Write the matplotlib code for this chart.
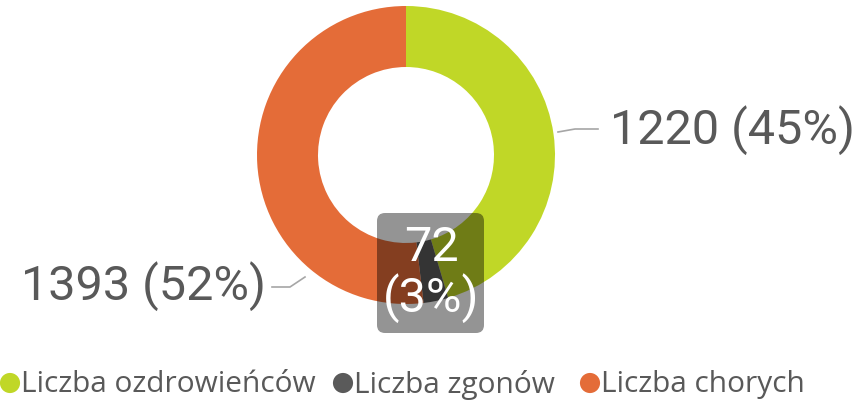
import matplotlib.pyplot as plt
from matplotlib.patches import FancyBboxPatch

# dane
etykiety = ['Liczba ozdrowieńców', 'Liczba zgonów', 'Liczba chorych']
wartosci = [1220, 72, 1393]
kolory = ['#C0D727', '#5A5A5A', '#E46C38']

W, H = 864, 406
fig = plt.figure(figsize=(W / 100, H / 100), dpi=100)
ax = fig.add_axes([0, 0, 1, 1])

suma = sum(wartosci)
proc = [round(100 * v / suma) for v in wartosci]

wedges, _ = ax.pie(wartosci, colors=kolory, startangle=90, counterclock=False,
                   center=(406, 250), radius=149,
                   wedgeprops=dict(width=61, edgecolor='none'))

ax.set_xlim(0, W)
ax.set_ylim(0, H)
ax.set_aspect('equal')
ax.axis('off')

tekst = '#595959'
linia = '#A6A6A6'

# etykieta prawa
ax.plot([558, 575, 598], [273, 276, 276], color=linia, lw=1.2)
ax.text(610, 276, f'{wartosci[0]} ({proc[0]}%)', fontsize=35, color=tekst,
        family='Roboto', ha='left', va='center')

# etykieta lewa
ax.plot([305, 290, 272], [128, 118, 118], color=linia, lw=1.2)
ax.text(266, 120, f'{wartosci[2]} ({proc[2]}%)', fontsize=35, color=tekst,
        family='Roboto', ha='right', va='center')

# etykieta srodkowa w ramce
box = FancyBboxPatch((377, 72), 107, 120, boxstyle='round,pad=0,rounding_size=8',
                     facecolor='black', alpha=0.42, edgecolor='none')
ax.add_patch(box)
ax.text(431, 132, f'{wartosci[1]}\n({proc[1]}%)', fontsize=35, color='white',
        family='Roboto', ha='center', va='center', linespacing=1.05)

# legenda
x_leg = [10, 343, 590]
for x, lab, c in zip(x_leg, etykiety, kolory):
    ax.scatter([x], [22], s=210, color=c, edgecolor='none')
    ax.text(x + 11, 21, lab, fontsize=21.5, color=tekst, family='Open Sans',
            ha='left', va='center')

fig.savefig('out.png', dpi=100)
